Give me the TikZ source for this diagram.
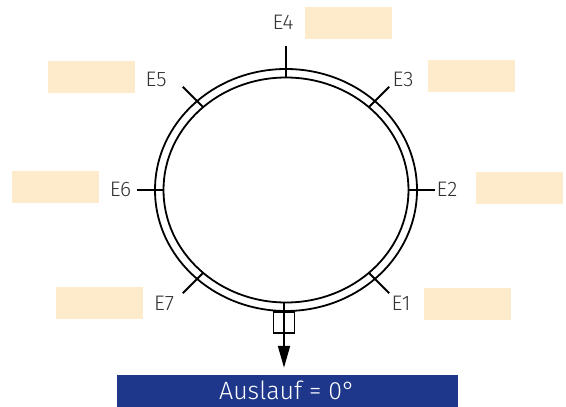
\documentclass[tikz,border=0pt]{standalone}
\usepackage{fontspec}
\setmainfont{Fira Sans}[UprightFont={* Light}]
\usetikzlibrary{calc,arrows.meta}
\definecolor{slotfill}{RGB}{253,235,204}
\definecolor{outblue}{RGB}{30,55,138}

\begin{document}
\begin{tikzpicture}[x=1pt,y=-1pt,
  lab/.style={font=\fontsize{21}{21}\selectfont, text=black!80, inner sep=0},
  slot/.style={fill=slotfill, minimum width=87pt, minimum height=32pt, inner sep=0},
  ring/.style={line width=1.8pt},
  tick/.style={line width=1.8pt}]
\useasboundingbox (0,0) rectangle (566,407);
\coordinate (c) at (286,190);
% double ring
\draw[ring] (c) ellipse [x radius=131pt, y radius=121pt];
\draw[ring] (c) ellipse [x radius=122.5pt, y radius=112.5pt];
% radial ticks
\foreach \n/\a/\ri/\ro in {1/45/117.2/146, 2/0/122.5/149, 3/-45/117.2/146, 4/-90/112.5/144,
                           5/-135/117.2/146, 6/180/122.5/149, 7/135/117.2/146}
  \draw[tick] ($(c)+(\a:\ri)$) -- ($(c)+(\a:\ro)$) coordinate (t\n);
% labels
\node[lab] (e1) at (401,303) {E1};
\node[lab] (e2) at (447,189) {E2};
\node[lab] (e3) at (403,79) {E3};
\node[lab] (e4) at (283,22.5) {E4};
\node[lab] (e5) at (156,79) {E5};
\node[lab] (e6) at (120.5,189) {E6};
\node[lab] (e7) at (164,303) {E7};
% empty fields
\node[slot] (s1) at (467.5,303.5) {};
\node[slot] (s2) at (519.5,188) {};
\node[slot] (s3) at (471.5,76.2) {};
\node[slot] (s4) at (348,23.3) {};
\node[slot] (s5) at (91,77) {};
\node[slot] (s6) at (55.5,187.2) {};
\node[slot] (s7) at (99.3,303.3) {};
% outlet
\node[fill=outblue, text=white, minimum width=341pt, minimum height=31.7pt, inner sep=0,
      font=\fontsize{25}{25}\selectfont] (auslauf) at (287.2,390.8) {Auslauf = 0°};
\node[draw, line width=1.6pt, minimum width=21pt, minimum height=21pt, inner sep=0] (outlet) at (284,322.5) {};
\draw[tick, -{Triangle[length=22pt,width=12pt]}, shorten >=7pt]
  ($(c)+(-2,112.5)$) -- (auslauf.north -| outlet);
\end{tikzpicture}
\end{document}
